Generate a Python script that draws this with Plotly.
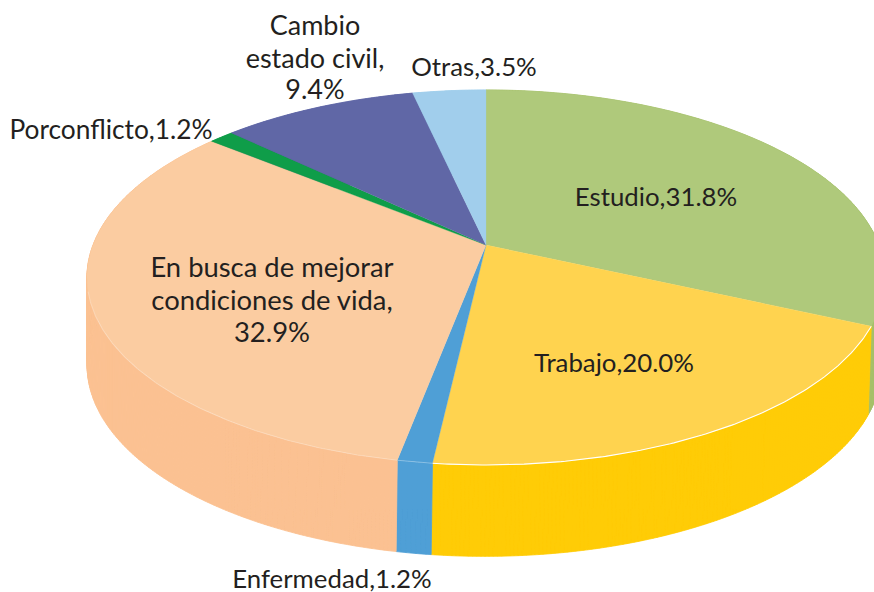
import numpy as np
import plotly.graph_objects as go

# --- data (clockwise from 12 o'clock) ---
categories = ["Estudio", "Trabajo", "Enfermedad", "En busca de mejorar condiciones de vida",
              "Porconflicto", "Cambio estado civil", "Otras"]
values = [31.8, 20.0, 1.2, 32.9, 1.2, 9.4, 3.5]

# --- styles ---
top_colors = ["#AFC97B", "#FFD34F", "#4F9FD6", "#FBCCA1", "#0F9D49", "#6067A6", "#A1CEEC"]
side_colors = ["#A6C06A", "#FFCC06", "#4F9FD6", "#FBC192", "#0F9D49", "#6067A6", "#A1CEEC"]
rim_opacity = [0, 1, 0.3, 0.25, 0, 0, 0]

# label layout: text lines, centre x, centre y of every line, font size
label_layout = [
    (["{c},{v}%"], 656, [200], 25.8),
    (["{c},{v}%"], 614, [366], 25.8),
    (["{c},{v}%"], 332, [582], 25.8),
    (["En busca de mejorar", "condiciones de vida,", "{v}%"], 272, [270, 303, 335], 27.4),
    (["{c},{v}%"], 111, [132], 26.3),
    (["Cambio", "estado civil,", "{v}%"], 315, [28, 61, 92], 27),
    (["{c},{v}%"], 474, [70], 25.8),
]

# --- projection of the tilted disc onto the page ---
APEX_X, APEX_Y = 486, 245
A, B, C = 393.0, 181.9, -0.173


def top_face(theta):
    u, v = np.sin(theta), -np.cos(theta)
    w = 1 + C * v
    return A * u / w, B * v / w


def bottom_face(theta):
    x, y = top_face(theta)
    return 0.996 * x - 1.5, 1.02 * y + 87


def arc(frac_start, frac_end, face):
    n = max(3, int((frac_end - frac_start) * 720))
    th = np.linspace(frac_start, frac_end, n) * 2 * np.pi
    x, y = face(th)
    return APEX_X + x, APEX_Y + y


fig = go.Figure()
edges = np.concatenate([[0], np.cumsum(values)]) / sum(values)

# walls first (one small quad per arc step), so the top faces lie on them
for i, cat in enumerate(categories):
    xt, yt = arc(edges[i], edges[i + 1], top_face)
    xb, yb = arc(edges[i], edges[i + 1], bottom_face)
    qx, qy = [], []
    for j in range(len(xt) - 1):
        qx += [xt[j], xt[j + 1], xb[j + 1], xb[j], xt[j], None]
        qy += [yt[j], yt[j + 1], yb[j + 1], yb[j], yt[j], None]
    fig.add_trace(go.Scatter(x=qx, y=qy, mode="lines", fill="toself", fillcolor=side_colors[i],
                             line=dict(width=0.8, color=side_colors[i]), hoverinfo="skip",
                             showlegend=False))
for i, cat in enumerate(categories):
    xt, yt = arc(edges[i], edges[i + 1], top_face)
    fig.add_trace(go.Scatter(x=np.r_[APEX_X, xt, APEX_X], y=np.r_[APEX_Y, yt, APEX_Y],
                             mode="lines", fill="toself", fillcolor=top_colors[i],
                             line=dict(width=0.3, color=top_colors[i]), name=cat,
                             text=f"{cat}: {values[i]:.1f}%", hoverinfo="text", showlegend=False))
    if rim_opacity[i]:
        front = yt > APEX_Y + 45
        fig.add_trace(go.Scatter(x=xt[front], y=yt[front], mode="lines", opacity=rim_opacity[i],
                                 line=dict(width=1.1, color="white"), hoverinfo="skip",
                                 showlegend=False))

# labels
for i, (lines, cx, ys, size) in enumerate(label_layout):
    for line, y in zip(lines, ys):
        fig.add_trace(go.Scatter(x=[cx], y=[y], mode="text",
                                 text=[line.format(c=categories[i], v=f"{values[i]:.1f}")],
                                 textposition="middle center",
                                 textfont=dict(family="Lato, sans-serif", size=size, color="#231F20"),
                                 hoverinfo="skip", showlegend=False))

fig.update_layout(width=874, height=592, margin=dict(l=0, r=0, t=0, b=0),
                  paper_bgcolor="white", plot_bgcolor="white",
                  xaxis=dict(range=[0, 874], visible=False, fixedrange=True),
                  yaxis=dict(range=[592, 0], visible=False, fixedrange=True))
fig.write_html("out.html", config=dict(displayModeBar=False),
               post_script="document.body.style.margin='0';")
